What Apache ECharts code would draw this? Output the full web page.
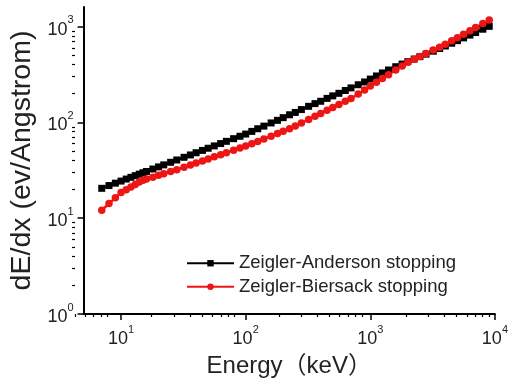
<!DOCTYPE html>
<html>
<head>
<meta charset="utf-8">
<title>Stopping power</title>
<script src="https://cdn.jsdelivr.net/npm/echarts@6/dist/echarts.min.js"></script>
<style>
    html, body { margin: 0; padding: 0; background: #fff; }
    #chart { width: 511px; height: 383px; }
</style>
</head>
<body>
<div id="chart"></div>
<script>
// energies (keV) of the plotted points
var energy = [7, 8, 9, 10, 11, 12, 13, 14, 15, 16, 18, 20, 22, 25, 28, 32, 36, 40, 45, 50,
    56, 63, 70, 80, 90, 100, 112, 125, 140, 160, 180, 200, 225, 250, 280, 320, 360, 400, 450, 500,
    560, 630, 700, 800, 900, 1000, 1120, 1250, 1400, 1600, 1800, 2000, 2250, 2500, 2800, 3200, 3600, 4000, 4500, 5000,
    5600, 6300, 7000, 8000, 9000];
// Zeigler-Anderson stopping (ev/Angstrom)
var zaStopping = [20.5, 21.9, 23.2, 24.4, 25.6, 26.7, 27.8, 28.8, 29.8, 30.7, 32.6, 34.3, 36.0, 38.3, 40.5, 43.2, 45.7, 48.2, 51.0, 53.7,
    56.8, 60.1, 63.4, 67.6, 71.6, 75.5, 80.5, 85.8, 91.4, 98.6, 105, 112, 120, 127, 136, 147, 157, 166, 178, 189,
    201, 215, 229, 247, 264, 283, 305, 328, 352, 381, 406, 430, 458, 485, 515, 553, 590, 627, 670, 713,
    762, 815, 867, 938, 1005];
// Zeigler-Biersack stopping (ev/Angstrom)
var zbStopping = [12.1, 14.2, 16.3, 18.5, 19.8, 21.2, 22.5, 23.8, 24.9, 25.6, 26.8, 28.0, 29.1, 30.7, 32.1, 34.0, 35.8, 37.6, 39.6, 41.5,
    43.7, 46.0, 48.3, 51.3, 54.1, 56.8, 59.7, 63.2, 67.0, 71.8, 76.4, 80.7, 85.7, 91.7, 98.6, 107, 116, 124, 134, 143,
    154, 166, 177, 198, 218, 239, 262, 287, 315, 352, 388, 424, 456, 486, 522, 568, 610, 652, 710, 766,
    830, 904, 975, 1074, 1170];

var xMajorTicks = [10, 100, 1000, 10000];
var xMinorTicks = [5, 6, 7, 8, 9, 20, 30, 40, 50, 60, 70, 80, 90, 200, 300, 400, 500, 600, 700, 800, 900,
    2000, 3000, 4000, 5000, 6000, 7000, 8000, 9000];
var yMajorTicks = [1, 10, 100, 1000];
var yMinorTicks = [2, 3, 4, 5, 6, 7, 8, 9, 20, 30, 40, 50, 60, 70, 80, 90, 200, 300, 400, 500, 600, 700, 800, 900];

var FONT = '"Liberation Sans", Arial, "Noto Sans CJK SC", sans-serif';

function pairs(xs, ys) {
    var out = [];
    for (var i = 0; i < xs.length; i++) out.push([xs[i], ys[i]]);
    return out;
}

// 10^n labels with superscript
function powLabel(v) {
    var e = Math.round(Math.log10(v));
    return '{b|10}{s|' + e + '}';
}
var powRich = {
    b: { fontSize: 18, fontFamily: FONT, color: '#222', lineHeight: 24, verticalAlign: 'bottom' },
    s: { fontSize: 11, fontFamily: FONT, color: '#222', lineHeight: 24, verticalAlign: 'top' }
};

var gridBox = { left: 75, right: 16, top: 7, bottom: 69 };

var myChart = echarts.init(document.getElementById('chart'));
myChart.setOption({
    animation: false,
    backgroundColor: '#fff',
    grid: [
        Object.assign({}, gridBox),
        Object.assign({}, gridBox)
    ],
    legend: {
        orient: 'vertical',
        left: 181,
        top: 249,
        itemWidth: 47,
        itemHeight: 8,
        itemGap: 5,
        textStyle: { fontSize: 18.5, fontFamily: FONT, color: '#222' },
        data: ['Zeigler-Anderson stopping', 'Zeigler-Biersack stopping']
    },
    xAxis: [{
        gridIndex: 0,
        type: 'log',
        min: 5,
        max: 10000,
        name: 'Energy（keV）',
        nameLocation: 'middle',
        nameGap: 40,
        nameTextStyle: { fontSize: 24, fontFamily: FONT, color: '#222' },
        axisLine: { lineStyle: { color: '#000', width: 2 } },
        axisTick: { length: 6, lineStyle: { color: '#000', width: 1.5 }, customValues: xMajorTicks },
        axisLabel: { margin: 10, formatter: powLabel, rich: powRich, customValues: xMajorTicks },
        splitLine: { show: false }
    }, {
        gridIndex: 1,
        type: 'log',
        min: 5,
        max: 10000,
        axisLine: { show: false },
        axisTick: { length: 3, lineStyle: { color: '#000', width: 1.2 }, customValues: xMinorTicks },
        axisLabel: { show: false },
        splitLine: { show: false }
    }],
    yAxis: [{
        gridIndex: 0,
        type: 'log',
        min: 1,
        max: 1600,
        name: 'dE/dx (ev/Angstrom)',
        nameLocation: 'middle',
        nameGap: 40,
        nameTextStyle: { fontSize: 28.5, fontFamily: FONT, color: '#222' },
        axisLine: { lineStyle: { color: '#000', width: 2 } },
        axisTick: { length: 6, lineStyle: { color: '#000', width: 1.5 }, customValues: yMajorTicks },
        axisLabel: { margin: 10, formatter: powLabel, rich: powRich, customValues: yMajorTicks },
        splitLine: { show: false }
    }, {
        gridIndex: 1,
        type: 'log',
        min: 1,
        max: 1600,
        axisLine: { show: false },
        axisTick: { length: 3, lineStyle: { color: '#000', width: 1.2 }, customValues: yMinorTicks },
        axisLabel: { show: false },
        splitLine: { show: false }
    }],
    series: [{
        name: 'Zeigler-Anderson stopping',
        type: 'line',
        xAxisIndex: 0,
        yAxisIndex: 0,
        data: pairs(energy, zaStopping),
        symbol: 'rect',
        symbolSize: 7,
        color: '#000',
        lineStyle: { color: '#000', width: 2.5 },
        itemStyle: { color: '#000' }
    }, {
        name: 'Zeigler-Biersack stopping',
        type: 'line',
        xAxisIndex: 0,
        yAxisIndex: 0,
        data: pairs(energy, zbStopping),
        symbol: 'circle',
        symbolSize: 7.5,
        color: '#ee1515',
        lineStyle: { color: '#ee1515', width: 2.5 },
        itemStyle: { color: '#ee1515' }
    }]
});
</script>
</body>
</html>
